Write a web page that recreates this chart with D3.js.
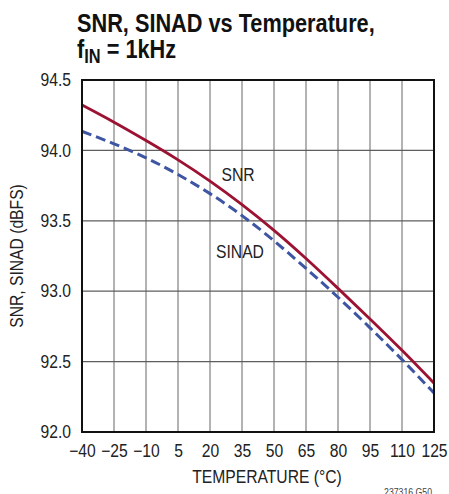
<!DOCTYPE html>
<html><head><meta charset="utf-8">
<script src="https://cdn.jsdelivr.net/npm/d3@7"></script>
<style>
body{margin:0;background:#fff;}
svg{display:block;font-family:"Liberation Sans",Arial,sans-serif;}
</style></head><body>
<svg id="c" width="449" height="494"></svg>
<script>
const temps = [-40, -25, -10, 5, 20, 35, 50, 65, 80, 95, 110, 125];
const snr   = [94.322, 94.2, 94.07, 93.933, 93.782, 93.615, 93.432, 93.232, 93.02, 92.803, 92.58, 92.347];
const sinad = [94.135, 94.047, 93.947, 93.829, 93.693, 93.537, 93.358, 93.162, 92.957, 92.74, 92.514, 92.277];
const yTicks = [92.0, 92.5, 93.0, 93.5, 94.0, 94.5];
const xTicks = temps;

const svg = d3.select("#c");
const L = 82, R = 434, T = 80, B = 432;
const x = d3.scaleLinear().domain([-40, 125]).range([L, R]);
const y = d3.scaleLinear().domain([92, 94.5]).range([B, T]);
const KT = 0.82, K = 0.87;
function narrow(sel) {
  sel.each(function () {
    const w = this.getComputedTextLength();
    d3.select(this).attr("textLength", w * K).attr("lengthAdjust", "spacingAndGlyphs");
  });
}

// title (condensed by horizontal scale)
const tg = svg.append("g").attr("transform", `translate(77,0) scale(${KT},1)`);
tg.append("text").attr("x", 0).attr("y", 32)
  .attr("font-size", 26.5).attr("font-weight", "bold").attr("fill", "#111")
  .text("SNR, SINAD vs Temperature,");
const t2 = tg.append("text").attr("x", 0).attr("y", 58)
  .attr("font-size", 26.5).attr("font-weight", "bold").attr("fill", "#111");
t2.append("tspan").text("f");
t2.append("tspan").attr("font-size", 20).attr("dy", 5).text("IN");
t2.append("tspan").attr("dy", -5).text(" = 1kHz");

// grid
const g = svg.append("g");
g.selectAll("line.v").data(xTicks.slice(1, -1)).join("line")
  .attr("x1", d => x(d)).attr("x2", d => x(d)).attr("y1", T).attr("y2", B)
  .attr("stroke", "#8a8a8a").attr("stroke-width", 1.3);
g.selectAll("line.h").data(yTicks.slice(1, -1)).join("line")
  .attr("y1", d => y(d)).attr("y2", d => y(d)).attr("x1", L).attr("x2", R)
  .attr("stroke", "#5e5e5e").attr("stroke-width", 1.3);

// axes (labels via d3 axes, no tick lines)
const yAxis = d3.axisLeft(y).tickValues(yTicks).tickFormat(d3.format(".1f")).tickSize(0).tickPadding(11);
const ya = svg.append("g").attr("transform", `translate(${L},0)`).call(yAxis);
const fmtX = d => (d < 0 ? "\u2212" + Math.abs(d) : String(d));
const xAxis = d3.axisBottom(x).tickValues(xTicks).tickFormat(fmtX).tickSize(0).tickPadding(12);
const xa = svg.append("g").attr("transform", `translate(0,${B})`).call(xAxis);
[ya, xa].forEach(a => {
  a.select(".domain").remove();
  a.attr("font-family", null).attr("font-size", null);
  a.selectAll("text").attr("font-size", 18).attr("fill", "#222");
  narrow(a.selectAll("text"));
});

// lines
const line = d3.line().x((d, i) => x(temps[i])).y(d => y(d)).curve(d3.curveNatural);
svg.append("path").datum(sinad).attr("d", line).attr("fill", "none")
  .attr("stroke", "#3d55a3").attr("stroke-width", 3).attr("stroke-dasharray", "10,5");
svg.append("path").datum(snr).attr("d", line).attr("fill", "none")
  .attr("stroke", "#9c1232").attr("stroke-width", 2.8);

// frame
svg.append("rect").attr("x", L).attr("y", T).attr("width", R - L).attr("height", B - T)
  .attr("fill", "none").attr("stroke", "#111").attr("stroke-width", 2);

// series labels
const lab = [];
lab.push(svg.append("text").attr("x", 238).attr("y", 181).attr("text-anchor", "middle")
  .attr("font-size", 18).attr("fill", "#222").text("SNR"));
lab.push(svg.append("text").attr("x", 240).attr("y", 258).attr("text-anchor", "middle")
  .attr("font-size", 18).attr("fill", "#222").text("SINAD"));

// axis titles
lab.push(svg.append("text").attr("transform", `translate(23,${(T + B) / 2}) rotate(-90)`)
  .attr("text-anchor", "middle").attr("font-size", 18).attr("fill", "#222")
  .text("SNR, SINAD (dBFS)"));
lab.push(svg.append("text").attr("x", 267).attr("y", 483).attr("text-anchor", "middle")
  .attr("font-size", 18).attr("fill", "#222").text("TEMPERATURE (\u00B0C)"));
lab.push(svg.append("text").attr("x", 432).attr("y", 496).attr("text-anchor", "end")
  .attr("font-size", 10).attr("fill", "#444").text("237316 G50"));
lab.forEach(narrow);
</script></body></html>
